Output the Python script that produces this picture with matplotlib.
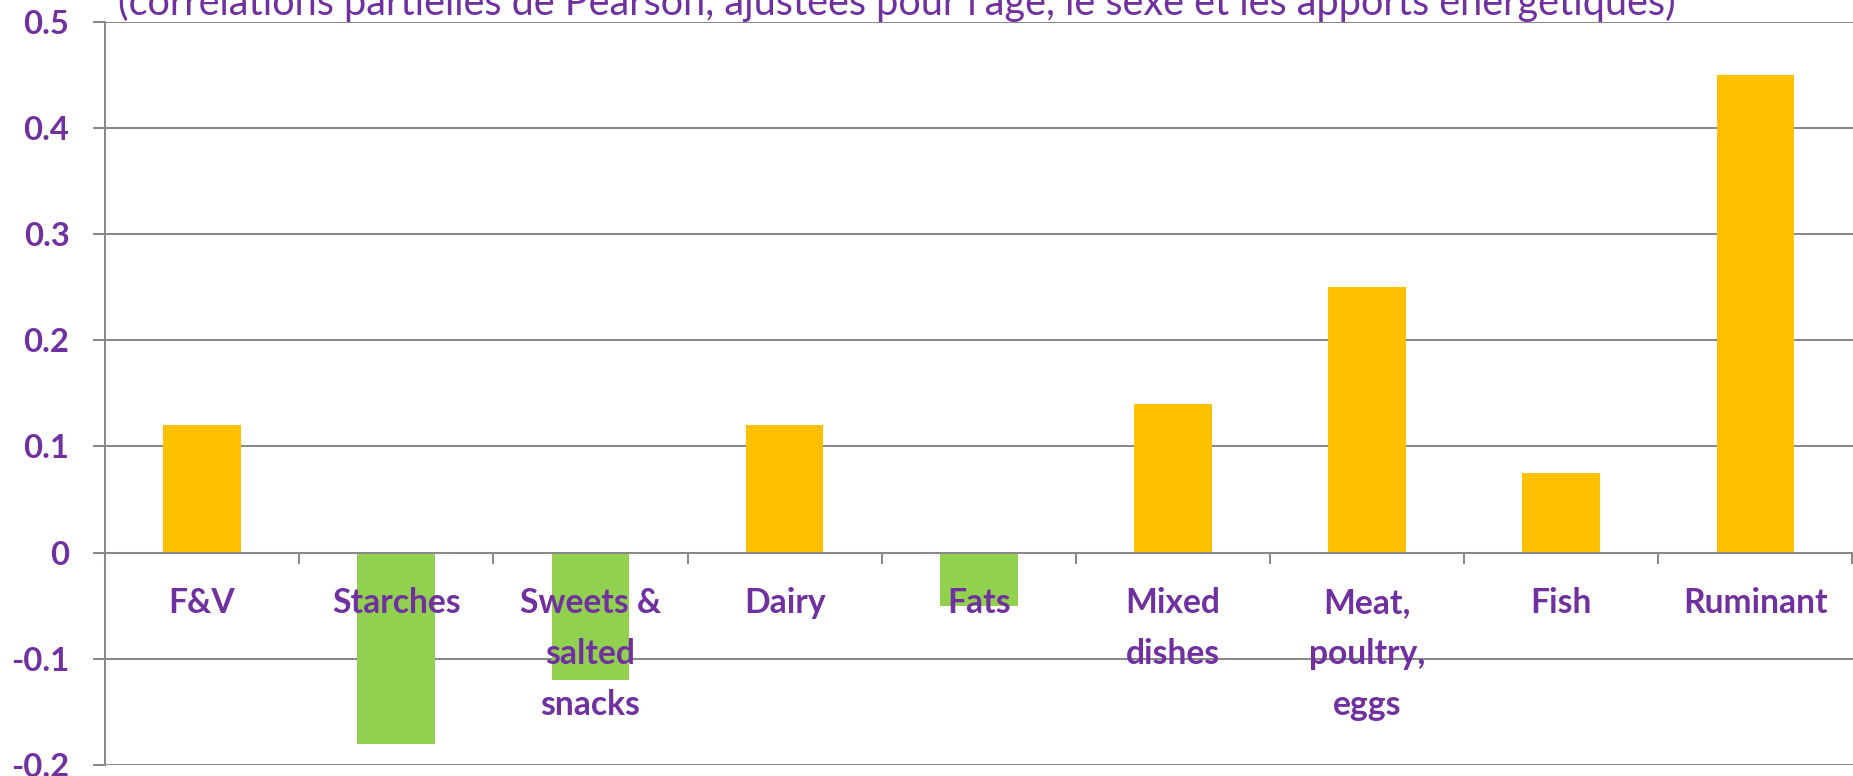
import matplotlib
matplotlib.use("Agg")
import matplotlib.pyplot as plt
from matplotlib.ticker import FixedLocator, FixedFormatter, NullFormatter
from matplotlib.transforms import offset_copy

# Food groups and partial correlation coefficients
categories = ["F&V", "Starches", "Sweets &\nsalted\nsnacks", "Dairy", "Fats",
              "Mixed\ndishes", "Meat,\npoultry,\neggs", "Fish", "Ruminant"]
values = [0.12, -0.18, -0.12, 0.12, -0.05, 0.14, 0.25, 0.075, 0.45]
y_ticks = [0.5, 0.4, 0.3, 0.2, 0.1, 0.0, -0.1, -0.2]
y_tick_labels = ["0.5", "0.4", "0.3", "0.2", "0.1", "0", "-0.1", "-0.2"]
subtitle = ("(corrélations partielles de Pearson, ajustées pour l'âge, "
            "le sexe et les apports énergétiques)")

POS_COLOR = "#FFC000"
NEG_COLOR = "#92D050"
PURPLE = "#7030A0"
GREY = "#898989"

plt.rcParams["font.family"] = ["Lato", "DejaVu Sans"]

W, H, DPI = 1853, 776, 100
fig = plt.figure(figsize=(W / DPI, H / DPI), dpi=DPI)
fig.patch.set_facecolor("white")

left, right = 105 / W, 1852.5 / W
top, bottom = 1 - 21.7 / H, 1 - 765 / H
ax = fig.add_axes([left, bottom, right - left, top - bottom])

x = list(range(len(categories)))
colors = [POS_COLOR if v >= 0 else NEG_COLOR for v in values]
ax.bar(x, values, width=0.4, color=colors, zorder=3)

ax.set_xlim(-0.5, len(categories) - 0.5)
ax.set_ylim(-0.2, 0.5)

# Horizontal grid
ax.yaxis.set_major_locator(FixedLocator(y_ticks))
ax.yaxis.set_major_formatter(FixedFormatter(y_tick_labels))
ax.grid(axis="y", color=GREY, linewidth=1.45, zorder=1)
ax.set_axisbelow(True)

# Spines: left axis line, category axis on the zero line
for s in ["top", "right"]:
    ax.spines[s].set_visible(False)
ax.spines["left"].set_color(GREY)
ax.spines["left"].set_linewidth(1.45)
ax.spines["bottom"].set_position(("data", 0))
ax.spines["bottom"].set_color(GREY)
ax.spines["bottom"].set_linewidth(1.45)
ax.spines["bottom"].set_zorder(4)

# Category separators as ticks on the zero line
ax.xaxis.set_major_locator(FixedLocator([i + 0.5 for i in range(-1, len(categories))]))
ax.xaxis.set_major_formatter(NullFormatter())
ax.tick_params(axis="x", which="major", direction="out", length=8, width=1.45,
               color=GREY)

# Category names drawn above the bars, just under the zero line
label_tf = offset_copy(ax.transData, fig=fig, y=-24.6, units="points")
for xi, name in zip(x, categories):
    ax.text(xi, 0, name, transform=label_tf, ha="center", va="top",
            ma="center", color=PURPLE, fontweight="bold", fontsize=24.2,
            linespacing=1.74, zorder=6)

ax.tick_params(axis="y", direction="out", length=8.6, width=1.45, color=GREY,
               pad=17, labelsize=23.6, labelcolor=PURPLE)
for lab in ax.get_yticklabels():
    lab.set_fontweight("bold")

fig.text(118 / W, 1 - 15 / H, subtitle, color=PURPLE, fontsize=28.5,
         ha="left", va="baseline")

fig.savefig("out.png", dpi=DPI, facecolor="white")
